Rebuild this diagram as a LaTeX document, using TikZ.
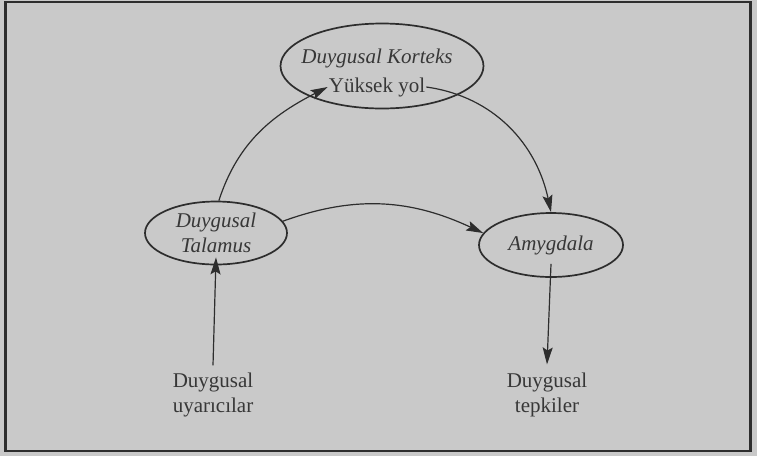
\documentclass[tikz,border=0pt]{standalone}
\usepackage{fontspec}
\setmainfont{Liberation Serif}
\usetikzlibrary{shapes.geometric,arrows.meta}
\definecolor{paper}{RGB}{201,201,201}
\definecolor{ink}{RGB}{45,45,45}
\definecolor{letter}{RGB}{55,55,55}

\begin{document}
\begin{tikzpicture}[x=1pt,y=1pt,font=\fontsize{21}{25}\selectfont,text=letter,
  lobe/.style={draw=ink,line width=1.7pt,ellipse,inner sep=0pt,align=center,font=\fontsize{21}{25}\selectfont\itshape},
  link/.style={draw=ink,line width=1.2pt,-{Stealth[length=17pt,width=10pt,inset=3pt]}}]
\fill[paper] (0,0) rectangle (757,-456);
\draw[ink,line width=2.5pt] (5.5,-2) rectangle (750.5,-451);
\node[lobe,minimum width=203,minimum height=85] (kort) at (382,-66) {};
\node[font=\fontsize{21}{25}\selectfont\itshape] (kname) at (377,-58) {Duygusal Korteks};
\node[inner sep=1pt] (yol) at (377,-87) {Yüksek yol};
\node[lobe,minimum width=142,minimum height=63] (tal) at (216,-233) {Duygusal\\Talamus};
\node[lobe,minimum width=144,minimum height=64] (amyg) at (551,-245) {Amygdala};
\node[align=center] (uyar) at (213,-395) {Duygusal\\uyarıcılar};
\node[align=center] (tepki) at (547,-395) {Duygusal\\tepkiler};
\draw[link] (tal.85) to[out=72,in=207] (yol.west);
\draw[link] (yol.east) to[out=-8,in=102] (amyg.north);
\draw[link] (tal.10) to[out=20,in=155] (amyg.170);
\draw[link] ([yshift=4pt]uyar.north) -- ([yshift=8pt]tal.south);
\draw[link] ([yshift=14pt]amyg.south) -- ([yshift=5pt]tepki.north);
\end{tikzpicture}
\end{document}
